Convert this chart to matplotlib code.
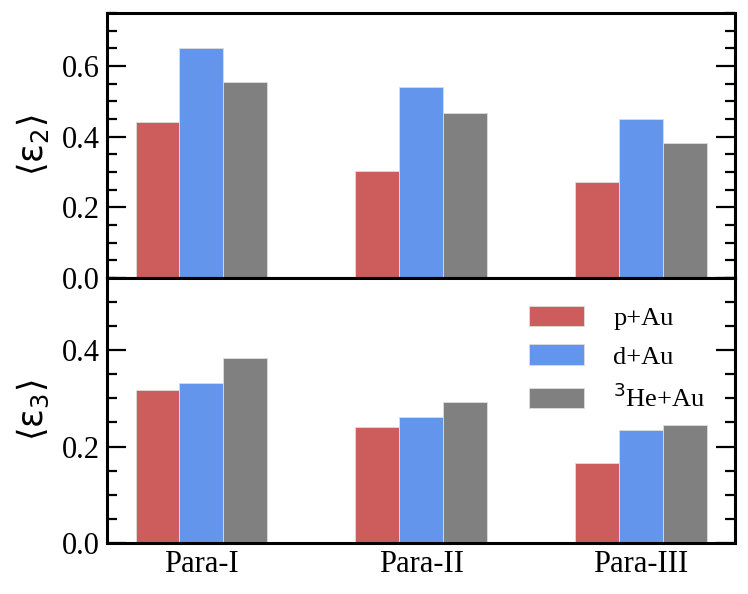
import numpy as np
import matplotlib
matplotlib.use('Agg')
import matplotlib.pyplot as plt
from matplotlib.ticker import MultipleLocator

plt.rcParams['font.family'] = ['Liberation Serif', 'DejaVu Serif']
plt.rcParams['mathtext.fontset'] = 'dejavusans'

groups = ['Para-I', 'Para-II', 'Para-III']
systems = ['p+Au', 'd+Au', '$^3$He+Au']
colors = ['#CD5C5C', '#6495ED', '#808080']

# <eps2>
eps2_p = [0.441, 0.303, 0.272]
eps2_d = [0.650, 0.541, 0.450]
eps2_he = [0.556, 0.467, 0.381]

# <eps3>
eps3_p = [0.317, 0.241, 0.165]
eps3_d = [0.332, 0.261, 0.235]
eps3_he = [0.383, 0.292, 0.245]

x = np.arange(len(groups))
w = 0.2

fig, (ax1, ax2) = plt.subplots(2, 1, figsize=(7.48, 5.94), dpi=100, sharex=True)
fig.subplots_adjust(left=0.143, right=0.983, top=0.978, bottom=0.086, hspace=0)

for ax, vals in [(ax1, [eps2_p, eps2_d, eps2_he]), (ax2, [eps3_p, eps3_d, eps3_he])]:
    for i, (v, c, lab) in enumerate(zip(vals, colors, systems)):
        ax.bar(x + (i - 1) * w, v, w, color=c, edgecolor='#dddddd', linewidth=0.6, label=lab)
    ax.yaxis.set_major_locator(MultipleLocator(0.2))
    ax.yaxis.set_minor_locator(MultipleLocator(0.05))
    ax.tick_params(axis='y', which='both', direction='in', left=True, right=True, labelsize=22, pad=5)
    ax.tick_params(axis='y', which='major', length=13.5, width=1.6)
    ax.tick_params(axis='y', which='minor', length=7, width=1.6)
    ax.tick_params(axis='x', which='both', length=0, labelsize=22, pad=5)
    for s in ax.spines.values():
        s.set_linewidth(2.2)

ax1.set_ylim(0, 0.75)
ax2.set_ylim(0, 0.55)
ax1.set_yticks([0.0, 0.2, 0.4, 0.6])
ax1.set_yticklabels(['0.0', '0.2', '0.4', '0.6'])
ax2.set_yticks([0.0, 0.2, 0.4])
ax2.set_yticklabels(['0.0', '0.2', '0.4'])
ax2.set_xlim(-0.43, 2.43)
ax2.set_xticks(x)
ax2.set_xticklabels(groups)

ax1.set_ylabel(r'$\langle\mathrm{\varepsilon}_2\rangle$', fontsize=25, labelpad=8)
ax2.set_ylabel(r'$\langle\mathrm{\varepsilon}_3\rangle$', fontsize=25, labelpad=8)
fig.align_ylabels([ax1, ax2])

ax2.legend(loc='upper right', frameon=False, fontsize=19, handlelength=2.1,
           handleheight=0.8, labelspacing=0.55, handletextpad=1.1,
           bbox_to_anchor=(0.99, 0.985))

fig.savefig('out.png', dpi=100)
